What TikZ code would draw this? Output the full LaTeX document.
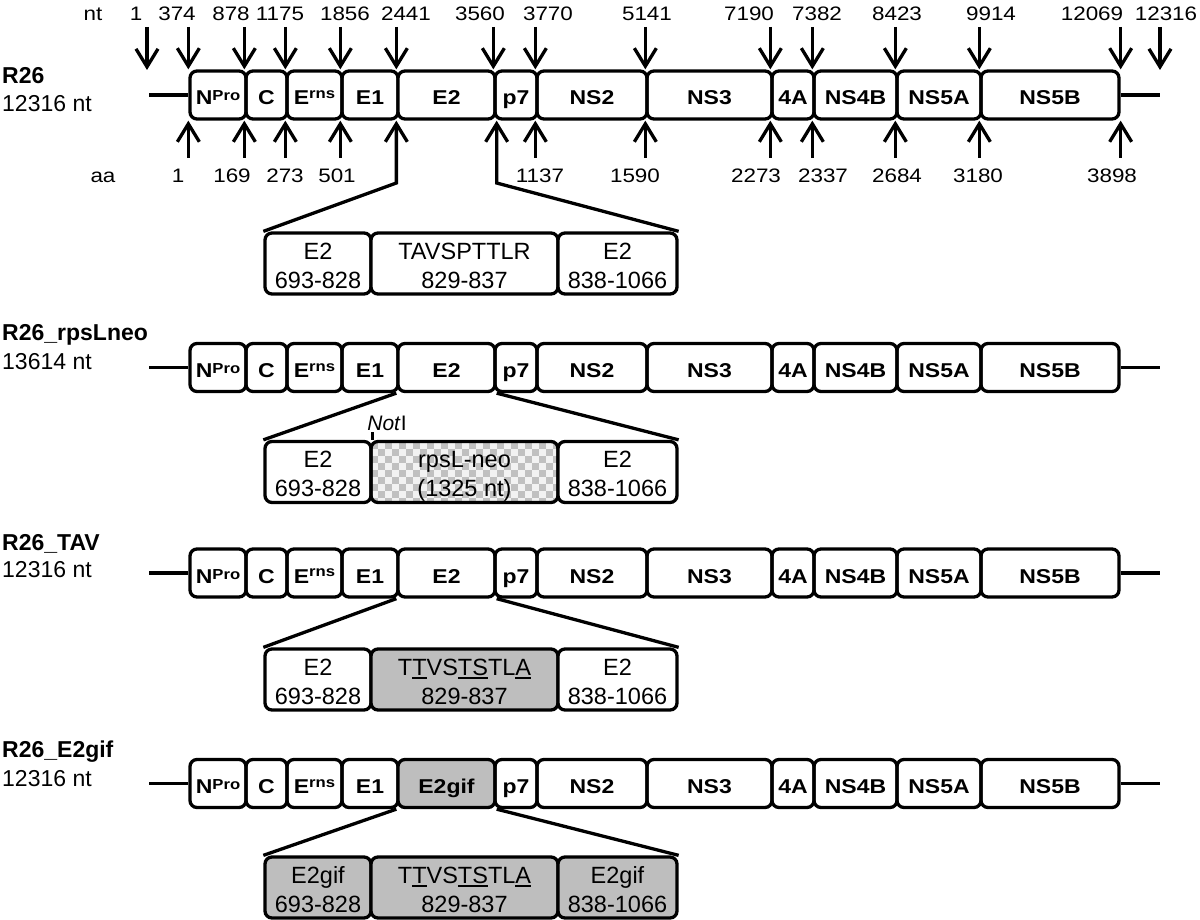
\documentclass[tikz,border=0pt]{standalone}
\usepackage{fontspec}
\setmainfont{Liberation Sans}
\newfontfamily\numfont{Liberation Sans}[FakeStretch=1.15]
\usetikzlibrary{arrows.meta}
\definecolor{boxgray}{RGB}{190,190,190}
\definecolor{chkdark}{RGB}{192,192,192}
\definecolor{chklight}{RGB}{242,242,242}
\newcommand\mysup[2]{\raisebox{#1}{\fontsize{14.5}{14.5}\selectfont #2}}
\newcommand\myul[1]{\leavevmode\setbox0\hbox{#1}\rlap{\rule[-3.5pt]{\wd0}{1.8pt}}\box0}
\newcommand\genomerow[4]{%
  \node[gbox, minimum width=56pt] (#1npro) at (218,#2) {N\mysup{4pt}{Pro}};
  \node[gbox, minimum width=41pt] (#1c) at (266.5,#2) {C};
  \node[gbox, minimum width=55pt] (#1erns) at (314.5,#2) {E\mysup{6.5pt}{rns}};
  \node[gbox, minimum width=56pt] (#1e1) at (370,#2) {E1};
  \node[gbox, minimum width=97pt, fill=#4] (#1e2) at (446.5,#2) {#3};
  \node[gbox, minimum width=42pt] (#1p7) at (516,#2) {p7};
  \node[gbox, minimum width=110pt] (#1ns2) at (592,#2) {NS2};
  \node[gbox, minimum width=125pt] (#1ns3) at (709.5,#2) {NS3};
  \node[gbox, minimum width=42pt] (#1a4) at (793,#2) {4A};
  \node[gbox, minimum width=83pt] (#1ns4b) at (855.5,#2) {NS4B};
  \node[gbox, minimum width=84pt] (#1ns5a) at (939,#2) {NS5A};
  \node[gbox, minimum width=138pt] (#1ns5b) at (1050,#2) {NS5B};
  \coordinate (#1beg) at (149,#2);
  \coordinate (#1fin) at (1160,#2);
  \draw[ln] (#1beg) -- (#1npro.west);
  \draw[ln] (#1ns5b.east) -- (#1fin);
}
\newcommand\exprow[8]{%
  \node[xbox, minimum width=106pt, fill=#6] (#1xa) at (318,#2) {#3};
  \node[xbox, minimum width=187pt, fill=#7] (#1xb) at (464.5,#2) {#4};
  \node[xbox, minimum width=119pt, fill=#8] (#1xc) at (617.5,#2) {#5};
}
\begin{document}
\begin{tikzpicture}[x=1pt,y=-1pt,
  gbox/.style={draw, line width=3.3pt, rounded corners=7pt, minimum height=48pt, inner sep=0pt, text height=20pt, text depth=0pt, font=\numfont\bfseries\fontsize{20}{22}\selectfont},
  xbox/.style={draw, line width=3.3pt, rounded corners=7pt, minimum height=61pt, inner sep=0pt, align=center, text height=49.6pt, text depth=0pt, font=\fontsize{23.5}{29}\selectfont},
  num/.style={inner sep=0pt, anchor=base, font=\numfont\fontsize{19.5}{22}\selectfont},
  rowname/.style={inner sep=0pt, anchor=base west, font=\bfseries\fontsize{23}{27}\selectfont},
  rowlen/.style={inner sep=0pt, anchor=base west, font=\fontsize{23}{27}\selectfont},
  ln/.style={line width=3.3pt},
  arr/.style={line width=3.3pt, -{Straight Barb[length=18pt,width=22pt]}},
]
\useasboundingbox (0,0) rectangle (1200,920);

% ---------- row 1: R26 ----------
\node[rowname] (name1) at (2,83.3) {R26};
\node[rowlen] (len1) at (2,111.7) {12316 nt};
\genomerow{r1}{95}{E2}{white}

% nt labels
\node[num] (ntlbl) at (93,20.7) {nt};
\node[num] (nt1) at (136,20.7) {1};
\node[num] (nt374) at (177,20.7) {374};
\node[num] (nt878) at (231,20.7) {878};
\node[num] (nt1175) at (280,20.7) {1175};
\node[num] (nt1856) at (345,20.7) {1856};
\node[num] (nt2441) at (406,20.7) {2441};
\node[num] (nt3560) at (480,20.7) {3560};
\node[num] (nt3770) at (548,20.7) {3770};
\node[num] (nt5141) at (647,20.7) {5141};
\node[num] (nt7190) at (749,20.7) {7190};
\node[num] (nt7382) at (817,20.7) {7382};
\node[num] (nt8423) at (897,20.7) {8423};
\node[num] (nt9914) at (991,20.7) {9914};
\node[num] (nt12069) at (1092,20.7) {12069};
\node[num] (nt12316) at (1166,20.7) {12316};

% down arrows
\coordinate (tipA) at (147,70);
\coordinate (tipB) at (1160,70);
\draw[arr] (tipA |- 0,27) -- (tipA);
\draw[arr] (r1npro.north west |- 0,27) -- (r1npro.north west);
\draw[arr] (r1c.north west |- 0,27) -- (r1c.north west);
\draw[arr] (r1erns.north west |- 0,27) -- (r1erns.north west);
\draw[arr] (r1e1.north west |- 0,27) -- (r1e1.north west);
\draw[arr] (r1e2.north west |- 0,27) -- (r1e2.north west);
\draw[arr] (r1p7.north west |- 0,27) -- (r1p7.north west);
\draw[arr] (r1ns2.north west |- 0,27) -- (r1ns2.north west);
\draw[arr] (r1ns3.north west |- 0,27) -- (r1ns3.north west);
\draw[arr] (r1a4.north west |- 0,27) -- (r1a4.north west);
\draw[arr] (r1ns4b.north west |- 0,27) -- (r1ns4b.north west);
\draw[arr] (r1ns5a.north west |- 0,27) -- (r1ns5a.north west);
\draw[arr] (r1ns5b.north west |- 0,27) -- (r1ns5b.north west);
\draw[arr] (r1ns5b.north east |- 0,27) -- (r1ns5b.north east);
\draw[arr] (tipB |- 0,27) -- (tipB);

% aa labels
\node[num] (aalbl) at (103,183) {aa};
\node[num] (aa1) at (178,183) {1};
\node[num] (aa169) at (232,183) {169};
\node[num] (aa273) at (285,183) {273};
\node[num] (aa501) at (337,183) {501};
\node[num] (aa1137) at (540,183) {1137};
\node[num] (aa1590) at (635,183) {1590};
\node[num] (aa2273) at (756,183) {2273};
\node[num] (aa2337) at (823,183) {2337};
\node[num] (aa2684) at (897,183) {2684};
\node[num] (aa3180) at (978,183) {3180};
\node[num] (aa3898) at (1112,183) {3898};

% up arrows
\draw[arr] (r1npro.south west |- 0,158) -- (r1npro.south west);
\draw[arr] (r1c.south west |- 0,158) -- (r1c.south west);
\draw[arr] (r1erns.south west |- 0,158) -- (r1erns.south west);
\draw[arr] (r1e1.south west |- 0,158) -- (r1e1.south west);
\draw[arr] (r1ns2.south west |- 0,158) -- (r1ns2.south west);
\draw[arr] (r1ns3.south west |- 0,158) -- (r1ns3.south west);
\draw[arr] (r1a4.south west |- 0,158) -- (r1a4.south west);
\draw[arr] (r1ns4b.south west |- 0,158) -- (r1ns4b.south west);
\draw[arr] (r1ns5a.south west |- 0,158) -- (r1ns5a.south west);
\draw[arr] (r1ns5b.south west |- 0,158) -- (r1ns5b.south west);
\draw[arr] (r1ns5b.south east |- 0,158) -- (r1ns5b.south east);

% expansion R26
\exprow{r1}{263.5}{E2\\693-828}{TAVSPTTLR\\829-837}{E2\\838-1066}{white}{white}{white}
\coordinate (k1l) at (r1e2.south west |- 0,183);
\coordinate (k1r) at (r1e2.south east |- 0,183);
\draw[arr] (r1xa.north west) -- (k1l) -- (r1e2.south west);
\draw[arr] (r1xc.north east) -- (k1r) -- (r1e2.south east);

% ---------- row 2: R26_rpsLneo ----------
\node[rowname] (name2) at (2,340.7) {R26\_rpsLneo};
\node[rowlen] (len2) at (2,369) {13614 nt};
\genomerow{r2}{367.5}{E2}{white}
\begin{scope}
  \clip[rounded corners=7pt] (371,441.5) rectangle (558,502.5);
  \fill[chklight] (371,441.5) rectangle (558,502.5);
  \foreach \i in {0,...,26}{
    \foreach \j in {0,...,8}{
      \pgfmathtruncatemacro\chkp{mod(\i+\j,2)}
      \ifnum\chkp=0 \fill[chkdark] ({371+7*\i},{441.5+7*\j}) rectangle ++(7,7);\fi
    }
  }
\end{scope}
\exprow{r2}{472}{E2\\693-828}{rpsL-neo\\(1325 nt)}{E2\\838-1066}{white}{none}{white}
\draw[ln] (r2e2.south west) -- (r2xa.north west);
\draw[ln] (r2e2.south east) -- (r2xc.north east);
\node[inner sep=0pt, anchor=base, font=\fontsize{21}{24}\selectfont] (noti) at (387,430) {\textit{Not}I};
\coordinate (notitick) at (r2xa.north east |- 0,432);
\draw[line width=2.5pt] (notitick) -- (r2xa.north east);

% ---------- row 3: R26_TAV ----------
\node[rowname] (name3) at (2,550) {R26\_TAV};
\node[rowlen] (len3) at (2,577) {12316 nt};
\genomerow{r3}{573}{E2}{white}
\exprow{r3}{679.5}{E2\\693-828}{T\myul{T}VS\myul{TS}TL\myul{A}\\829-837}{E2\\838-1066}{white}{boxgray}{white}
\draw[ln] (r3e2.south west) -- (r3xa.north west);
\draw[ln] (r3e2.south east) -- (r3xc.north east);

% ---------- row 4: R26_E2gif ----------
\node[rowname] (name4) at (2,757) {R26\_E2gif};
\node[rowlen] (len4) at (2,786) {12316 nt};
\genomerow{r4}{783.5}{E2gif}{boxgray}
\exprow{r4}{887.5}{E2gif\\693-828}{T\myul{T}VS\myul{TS}TL\myul{A}\\829-837}{E2gif\\838-1066}{boxgray}{boxgray}{boxgray}
\draw[ln] (r4e2.south west) -- (r4xa.north west);
\draw[ln] (r4e2.south east) -- (r4xc.north east);
\end{tikzpicture}
\end{document}
